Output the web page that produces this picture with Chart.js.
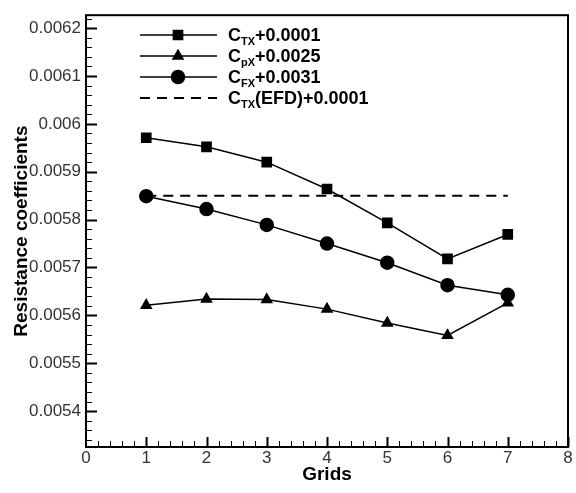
<!DOCTYPE html>
<html>
<head>
<meta charset="utf-8">
<script src="https://cdn.jsdelivr.net/npm/chart.js@4"></script>
<style>
html, body { margin: 0; padding: 0; background: #fff; }
#wrap { width: 576px; height: 493px; }
</style>
</head>
<body>
<div id="wrap"><canvas id="chart" width="576" height="493"></canvas></div>
<script>
// Grid number (x)
const grids = [1, 2, 3, 4, 5, 6, 7];

// Resistance coefficients, already shifted as the legend says
const cTX = [0.005971, 0.005952, 0.005920, 0.005864, 0.005793, 0.005718, 0.005769];
const cPX = [0.005621, 0.005634, 0.005633, 0.005613, 0.005584, 0.005558, 0.005626];
const cFX = [0.005849, 0.005822, 0.005789, 0.005750, 0.005710, 0.005663, 0.005643];
const cTXefd = [0.00585, 0.00585, 0.00585, 0.00585, 0.00585, 0.00585, 0.00585];

// Legend text: [letter, subscript, rest]
const seriesNames = [
    ['C', 'TX', '+0.0001'],
    ['C', 'pX', '+0.0025'],
    ['C', 'FX', '+0.0031'],
    ['C', 'TX', '(EFD)+0.0001'],
];

// Tick labels
const xTicks = [0, 1, 2, 3, 4, 5, 6, 7, 8];
const yTicks = [0.0054, 0.0055, 0.0056, 0.0057, 0.0058, 0.0059, 0.006, 0.0061, 0.0062];
const yTickLabels = ['0.0054', '0.0055', '0.0056', '0.0057', '0.0058', '0.0059', '0.006', '0.0061', '0.0062'];

const FONT = '"Liberation Sans", Arial, sans-serif';

function toPoints(values) {
    return values.map((v, i) => ({ x: grids[i], y: v }));
}

// Frame plus inward major/minor ticks, like the original plotting package
const framePlugin = {
    id: 'frame',
    afterDatasetsDraw(chart) {
        const { ctx, chartArea: a, scales } = chart;
        const xs = scales.x, ys = scales.y;
        ctx.save();
        ctx.strokeStyle = '#000';

        // minor / major ticks on y
        const yStep = 0.00002;
        for (let k = Math.ceil(ys.min / yStep); k <= Math.floor(ys.max / yStep); k++) {
            const py = Math.round(ys.getPixelForValue(k * yStep)) + 0.5;
            const major = k % 5 === 0;
            ctx.lineWidth = major ? 2 : 1;
            ctx.beginPath();
            ctx.moveTo(a.left, py);
            ctx.lineTo(a.left + (major ? 11 : 6), py);
            ctx.stroke();
        }
        // minor / major ticks on x
        const xStep = 0.2;
        for (let k = Math.ceil(xs.min / xStep + 1e-9); k <= Math.floor(xs.max / xStep + 1e-9); k++) {
            const px = Math.round(xs.getPixelForValue(k * xStep)) + 0.5;
            const major = k % 5 === 0;
            ctx.lineWidth = major ? 2 : 1;
            ctx.beginPath();
            ctx.moveTo(px, a.bottom);
            ctx.lineTo(px, a.bottom - (major ? 10 : 6));
            ctx.stroke();
        }

        ctx.lineWidth = 2;
        ctx.strokeRect(a.left, a.top, a.right - a.left, a.bottom - a.top);
        ctx.restore();
    }
};

// Legend with subscripts
const legendPlugin = {
    id: 'subLegend',
    afterDatasetsDraw(chart) {
        const { ctx } = chart;
        ctx.save();
        chart.data.datasets.forEach((ds, i) => {
            const y = 35 + i * 21;
            ctx.strokeStyle = '#000';
            ctx.lineWidth = ds.borderWidth;
            ctx.setLineDash(ds.borderDash || []);
            ctx.beginPath();
            ctx.moveTo(140, y);
            ctx.lineTo(217, y);
            ctx.stroke();
            ctx.setLineDash([]);
            if (ds.pointRadius > 0) {
                ctx.fillStyle = '#000';
                Chart.helpers.drawPoint(ctx, {
                    pointStyle: ds.pointStyle,
                    radius: ds.pointRadius,
                    rotation: 0,
                    borderWidth: 1
                }, 178, y);
            }
            const [main, sub, rest] = seriesNames[i];
            ctx.fillStyle = '#000';
            ctx.textBaseline = 'alphabetic';
            ctx.textAlign = 'left';
            let x = 228;
            ctx.font = 'bold 18px ' + FONT;
            ctx.fillText(main, x, y + 6);
            x += ctx.measureText(main).width;
            ctx.font = 'bold 11px ' + FONT;
            ctx.fillText(sub, x, y + 10);
            x += ctx.measureText(sub).width;
            ctx.font = 'bold 18px ' + FONT;
            ctx.fillText(rest, x, y + 6);
        });
        ctx.restore();
    }
};

const chart = new Chart(document.getElementById('chart').getContext('2d'), {
    type: 'line',
    data: {
        datasets: [
            {
                label: 'CTX+0.0001',
                data: toPoints(cTX),
                borderColor: '#000',
                backgroundColor: '#000',
                borderWidth: 1.5,
                pointStyle: 'rect',
                pointRadius: 6.5,
            },
            {
                label: 'CpX+0.0025',
                data: toPoints(cPX),
                borderColor: '#000',
                backgroundColor: '#000',
                borderWidth: 1.5,
                pointStyle: 'triangle',
                pointRadius: 5.8,
            },
            {
                label: 'CFX+0.0031',
                data: toPoints(cFX),
                borderColor: '#000',
                backgroundColor: '#000',
                borderWidth: 1.5,
                pointStyle: 'circle',
                pointRadius: 6.5,
            },
            {
                label: 'CTX(EFD)+0.0001',
                data: toPoints(cTXefd),
                borderColor: '#000',
                borderWidth: 2,
                borderDash: [10, 7],
                pointRadius: 0,
            },
        ],
    },
    options: {
        responsive: false,
        animation: false,
        devicePixelRatio: 1,
        layout: { padding: { left: 0, top: 5, right: 6, bottom: 0 } },
        plugins: {
            legend: { display: false },
            tooltip: { enabled: false },
        },
        scales: {
            x: {
                type: 'linear',
                min: 0,
                max: 8,
                grid: { display: false, drawTicks: false },
                border: { display: false },
                afterBuildTicks: (s) => { s.ticks = xTicks.map(v => ({ value: v })); },
                afterFit: (s) => { s.height = 46; },
                ticks: {
                    padding: 1,
                    color: '#333',
                    font: { family: FONT, size: 17 },
                    callback: (v) => String(v),
                },
                title: {
                    display: true,
                    text: 'Grids',
                    color: '#000',
                    font: { family: FONT, size: 19, weight: 'bold' },
                    padding: { top: 0, bottom: 7 },
                },
            },
            y: {
                min: 0.005325,
                max: 0.006227,
                grid: { display: false, drawTicks: false },
                border: { display: false },
                afterBuildTicks: (s) => { s.ticks = yTicks.map(v => ({ value: v })); },
                afterFit: (s) => { s.width = 86; },
                ticks: {
                    padding: 5,
                    color: '#333',
                    font: { family: FONT, size: 17 },
                    callback: (v, i) => yTickLabels[i],
                },
                title: {
                    display: true,
                    text: 'Resistance coefficients',
                    color: '#000',
                    font: { family: FONT, size: 19, weight: 'bold' },
                    padding: { top: 10, bottom: 0 },
                },
            },
        },
    },
    plugins: [framePlugin, legendPlugin],
});
</script>
</body>
</html>
